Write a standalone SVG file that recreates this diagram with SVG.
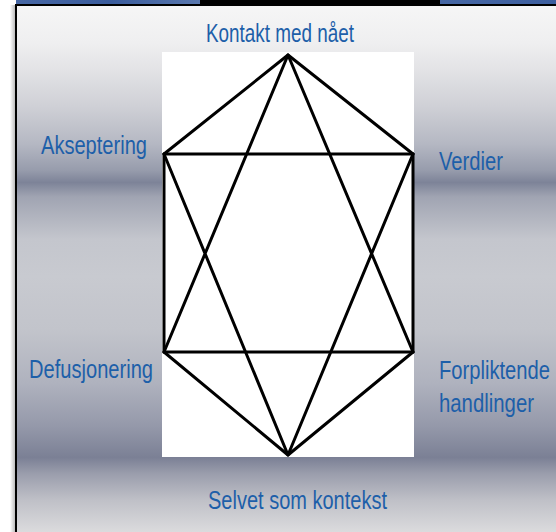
<svg xmlns="http://www.w3.org/2000/svg" width="556" height="532" viewBox="0 0 556 532">
<defs>
<linearGradient id="bg" x1="0" y1="0" x2="0" y2="532" gradientUnits="userSpaceOnUse">
<stop offset="0.01" stop-color="#f6f6f6"/>
<stop offset="0.08" stop-color="#efeff0"/>
<stop offset="0.13" stop-color="#e3e3e6"/>
<stop offset="0.2" stop-color="#cfd0d6"/>
<stop offset="0.27" stop-color="#b5b8c3"/>
<stop offset="0.32" stop-color="#979cac"/>
<stop offset="0.343" stop-color="#7d8398"/>
<stop offset="0.37" stop-color="#a0a4b2"/>
<stop offset="0.45" stop-color="#c4c6cd"/>
<stop offset="0.52" stop-color="#c8cad0"/>
<stop offset="0.62" stop-color="#c2c4cb"/>
<stop offset="0.72" stop-color="#afb2be"/>
<stop offset="0.8" stop-color="#9599aa"/>
<stop offset="0.86" stop-color="#7b8095"/>
<stop offset="0.89" stop-color="#9a9dac"/>
<stop offset="0.94" stop-color="#bfc0c7"/>
<stop offset="1" stop-color="#dbdbdd"/>
</linearGradient>
<linearGradient id="strip" x1="0" y1="0" x2="556" y2="0" gradientUnits="userSpaceOnUse">
<stop offset="0" stop-color="#4a6aa6"/>
<stop offset="0.2" stop-color="#3a5c9c"/>
<stop offset="0.36" stop-color="#5a78ae"/>
<stop offset="1" stop-color="#3d5f9f"/>
</linearGradient>
<linearGradient id="shadow" x1="0" y1="0" x2="1" y2="0">
<stop offset="0" stop-color="#ffffff"/>
<stop offset="1" stop-color="#b0b0b0"/>
</linearGradient>
</defs>
<style>
.lbl{font-family:"Liberation Sans",Arial,sans-serif;font-size:20px;fill:#1d5fa9}
.edge{stroke:#000;stroke-width:3;stroke-linecap:round;stroke-linejoin:round;fill:none}
</style>
<rect x="0" y="0" width="556" height="532" fill="#ffffff"/>
<rect x="10" y="5" width="6" height="527" fill="url(#shadow)"/>
<rect x="16" y="0" width="540" height="5" fill="url(#strip)"/>
<rect x="200" y="0" width="240" height="4" fill="#000"/>
<rect x="16" y="5" width="540" height="527" fill="url(#bg)"/>
<rect x="15" y="4" width="541" height="2" fill="#000"/>
<rect x="15" y="4" width="2" height="528" fill="#000"/>
<rect x="162" y="52" width="252" height="405" fill="#ffffff"/>
<g id="connectors">
<path class="edge" d="M288,55 L164,154 M288,55 L413,154 M164,154 L164,352 M413,154 L413,352 M164,352 L288,455 M413,352 L288,455"/>
<path class="edge" d="M164,154 L413,154 M164,352 L413,352"/>
<path class="edge" d="M288,55 L164,352 M288,55 L413,352 M288,455 L164,154 M288,455 L413,154"/>
</g>
<g id="n-kontakt"><text class="lbl" transform="translate(206,42) scale(1,1.3)" textLength="148" lengthAdjust="spacingAndGlyphs">Kontakt med nået</text></g>
<g id="n-akseptering"><text class="lbl" transform="translate(41,154) scale(1,1.3)" textLength="106" lengthAdjust="spacingAndGlyphs">Akseptering</text></g>
<g id="n-verdier"><text class="lbl" transform="translate(439,170) scale(1,1.3)" textLength="64" lengthAdjust="spacingAndGlyphs">Verdier</text></g>
<g id="n-defusjonering"><text class="lbl" transform="translate(29,378) scale(1,1.3)" textLength="124" lengthAdjust="spacingAndGlyphs">Defusjonering</text></g>
<g id="n-forpliktende"><text class="lbl" transform="translate(439,379) scale(1,1.3)" textLength="111" lengthAdjust="spacingAndGlyphs">Forpliktende</text><text class="lbl" transform="translate(439,412) scale(1,1.3)" textLength="95" lengthAdjust="spacingAndGlyphs">handlinger</text></g>
<g id="n-selvet"><text class="lbl" transform="translate(208,509) scale(1,1.3)" textLength="179" lengthAdjust="spacingAndGlyphs">Selvet som kontekst</text></g>
</svg>
